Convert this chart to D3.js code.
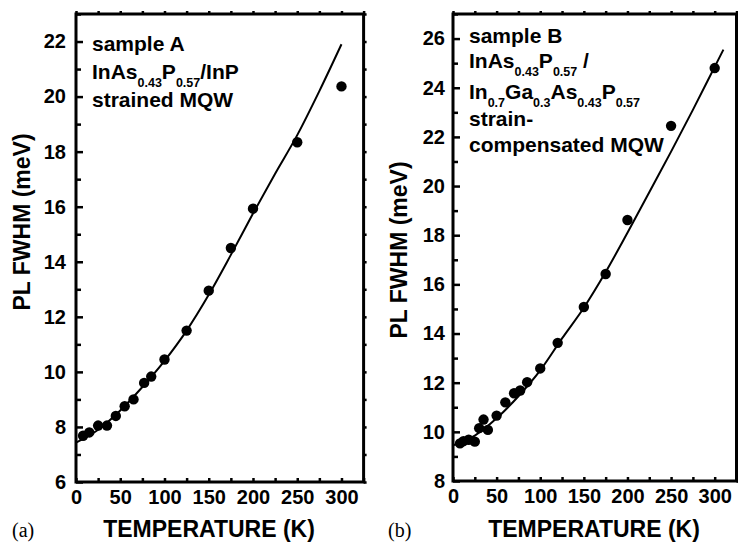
<!doctype html>
<html>
<head>
  <script src="https://cdnjs.cloudflare.com/ajax/libs/d3/7.8.5/d3.min.js"></script>
  <style>
    body { margin: 0; background: #fff; }
    text { font-family: "Liberation Sans", Arial, sans-serif; font-weight: bold; }
  </style>
</head>
<body>
<svg id="chart" width="738" height="544"></svg>
<script>
// sample A : InAsP / InP strained MQW
const tempA = [8, 15, 25, 35, 45, 55, 65, 77, 85, 100, 125, 150, 175, 200, 250, 300];
const fwhmA = [7.68, 7.8, 8.05, 8.05, 8.4, 8.75, 9.0, 9.6, 9.83, 10.45, 11.5, 12.95, 14.5, 15.93, 18.34, 20.37];
const fitTempA = [0, 25, 50, 75, 100, 125, 150, 175, 200, 225, 250, 275, 300];
const fitA = [7.43, 7.9, 8.6, 9.45, 10.4, 11.5, 12.8, 14.25, 15.75, 17.2, 18.6, 20.2, 21.9];

// sample B : strain-compensated MQW
const tempB = [8, 12, 18, 25, 30, 35, 40, 50, 60, 70, 77, 85, 100, 120, 150, 175, 200, 250, 300];
const fwhmB = [9.53, 9.62, 9.68, 9.6, 10.15, 10.5, 10.08, 10.66, 11.2, 11.57, 11.68, 12.02, 12.58, 13.62, 15.08, 16.42, 18.62, 22.45, 24.8];
const fitTempB = [0, 25, 50, 75, 100, 125, 150, 175, 200, 225, 250, 275, 300, 310];
const fitB = [9.45, 9.85, 10.55, 11.45, 12.5, 13.8, 15.05, 16.5, 18.1, 19.75, 21.4, 23.1, 24.85, 25.55];

const xTicks = [0, 50, 100, 150, 200, 250, 300];
const xMinor = [25, 75, 125, 175, 225, 275, 325];
const yTicksA = [6, 8, 10, 12, 14, 16, 18, 20, 22];
const yTicksB = [8, 10, 12, 14, 16, 18, 20, 22, 24, 26];

const labelA = [
  [["sample A", 0]],
  [["InAs", 0], ["0.43", 1], ["P", 0], ["0.57", 1], ["/InP", 0]],
  [["strained MQW", 0]]
];
const labelB = [
  [["sample B", 0]],
  [["InAs", 0], ["0.43", 1], ["P", 0], ["0.57", 1], [" /", 0]],
  [["In", 0], ["0.7", 1], ["Ga", 0], ["0.3", 1], ["As", 0], ["0.43", 1], ["P", 0], ["0.57", 1]],
  [["strain-", 0]],
  [["compensated MQW", 0]]
];

const svg = d3.select("#chart");

function panel(o) {
  const x = d3.scaleLinear().domain([0, 325]).range([o.left, o.right]);
  const y = d3.scaleLinear().domain(o.ydom).range([o.bottom, 14]);
  const g = svg.append("g");

  const yMinor = d3.range(o.ydom[0] + 1, o.ydom[1] + 1, 2);

  // minor ticks
  g.append("g").attr("transform", `translate(${o.left},0)`)
    .call(d3.axisLeft(y).tickValues(yMinor).tickSize(-5).tickFormat(""))
    .call(a => a.select(".domain").remove());
  g.append("g").attr("transform", `translate(0,${o.bottom})`)
    .call(d3.axisBottom(x).tickValues(xMinor).tickSize(-4).tickFormat(""))
    .call(a => a.select(".domain").remove());
  // mirrored ticks on top / right
  g.append("g").attr("transform", `translate(${o.right},0)`)
    .call(d3.axisRight(y).tickValues(yMinor.concat(o.yticks)).tickSize(3).tickFormat(""))
    .call(a => a.select(".domain").remove());
  g.append("g").attr("transform", `translate(0,14)`)
    .call(d3.axisTop(x).tickValues(xMinor.concat(xTicks)).tickSize(3).tickFormat(""))
    .call(a => a.select(".domain").remove());

  // major ticks + labels
  g.append("g").attr("transform", `translate(${o.left},0)`)
    .call(d3.axisLeft(y).tickValues(o.yticks).tickSize(-7).tickPadding(o.ypad).tickFormat(d3.format("d")))
    .call(a => a.select(".domain").remove());
  g.append("g").attr("transform", `translate(0,${o.bottom})`)
    .call(d3.axisBottom(x).tickValues(xTicks).tickSize(-4).tickPadding(8).tickFormat(d3.format("d")))
    .call(a => a.select(".domain").remove());

  g.selectAll(".tick line").attr("stroke", "#000").attr("stroke-width", 2.5);
  g.selectAll(".tick text").attr("fill", "#000")
    .style("font-size", "20px").style("font-family", "'Liberation Sans', Arial, sans-serif")
    .style("font-weight", "bold");

  // frame
  g.append("rect")
    .attr("x", o.left).attr("y", 14)
    .attr("width", o.right - o.left).attr("height", o.bottom - 14)
    .attr("fill", "none").attr("stroke", "#000").attr("stroke-width", 3);

  // fit curve
  const line = d3.line().x(d => x(d[0])).y(d => y(d[1])).curve(d3.curveMonotoneX);
  g.append("path")
    .datum(o.fitT.map((t, i) => [t, o.fitV[i]]))
    .attr("d", line).attr("fill", "none").attr("stroke", "#000").attr("stroke-width", 2);

  // data points
  g.selectAll("circle.pt")
    .data(o.t.map((t, i) => [t, o.v[i]]))
    .enter().append("circle")
    .attr("class", "pt")
    .attr("cx", d => x(d[0])).attr("cy", d => y(d[1]))
    .attr("r", 5.2).attr("fill", "#000");

  // annotation
  o.label.forEach((row, i) => {
    const t = g.append("text").attr("x", o.left + 16).attr("y", o.lineY[i])
      .style("font-size", "21px");
    let shifted = false;
    row.forEach(([s, sub]) => {
      const sp = t.append("tspan").text(s);
      if (sub && !shifted) { sp.attr("dy", 8).style("font-size", "12.5px"); shifted = true; }
      else if (sub) { sp.style("font-size", "12.5px"); }
      else if (shifted) { sp.attr("dy", -8); shifted = false; }
    });
  });

  // axis titles
  g.append("text").attr("x", o.titleXX).attr("y", 537)
    .attr("text-anchor", "middle").style("font-size", "23px").text("TEMPERATURE (K)");
  g.append("text")
    .attr("transform", `translate(${o.titleX},${o.titleY}) rotate(-90)`)
    .attr("text-anchor", "middle").style("font-size", "23px").text("PL FWHM (meV)");
  g.append("text").attr("x", o.tagX).attr("y", 537)
    .style("font-family", "'Liberation Serif', 'Times New Roman', serif")
    .style("font-weight", "normal").style("font-size", "20px").text(o.tag);
}

panel({
  left: 76, right: 363.6, bottom: 482, ydom: [6, 23], yticks: yTicksA, ypad: 10,
  t: tempA, v: fwhmA, fitT: fitTempA, fitV: fitA,
  label: labelA, lineY: [51, 79, 107],
  titleX: 30, titleY: 222, titleXX: 209, tag: "(a)", tagX: 12
});
panel({
  left: 453, right: 736.5, bottom: 481, ydom: [8, 27], yticks: yTicksB, ypad: 8,
  t: tempB, v: fwhmB, fitT: fitTempB, fitV: fitB,
  label: labelB, lineY: [43, 68, 99, 126, 152],
  titleX: 407, titleY: 250, titleXX: 594, tag: "(b)", tagX: 388
});
</script>
</body>
</html>
